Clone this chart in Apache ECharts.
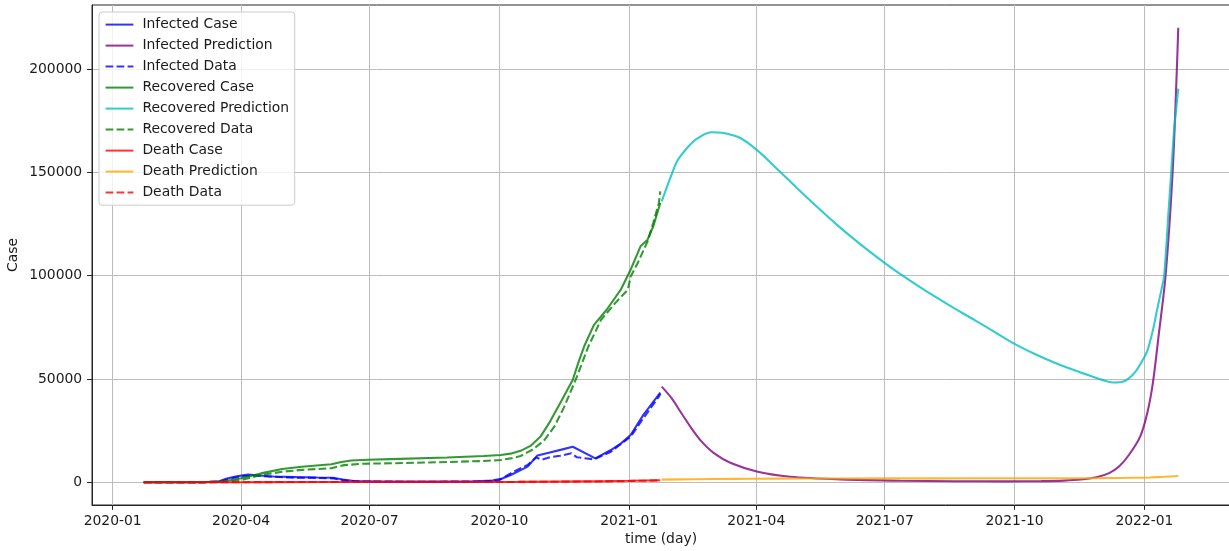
<!DOCTYPE html>
<html>
<head>
<meta charset="utf-8">
<title>Case</title>
<script src="https://cdn.jsdelivr.net/npm/echarts@6/dist/echarts.min.js"></script>
<style>
  html, body { margin: 0; padding: 0; background: #ffffff; }
  #chart { width: 1229px; height: 551px; }
</style>
</head>
<body>
<div id="chart"></div>
<script>
// ---- tick labels ----
const xTickLabels = ['2020-01', '2020-04', '2020-07', '2020-10', '2021-01', '2021-04', '2021-07', '2021-10', '2022-01'];
const yTickValues = [0, 50000, 100000, 150000, 200000];

// ---- series: [date, cases] ----
const infectedCase = [
  ['2020-01-23', 0], ['2020-02-15', 20], ['2020-03-05', 50], ['2020-03-16', 400],
  ['2020-03-22', 1800], ['2020-03-29', 2900], ['2020-04-06', 3700], ['2020-04-14', 3300],
  ['2020-04-24', 2800], ['2020-05-10', 2500], ['2020-05-25', 2300], ['2020-06-05', 2200],
  ['2020-06-12', 1300], ['2020-06-20', 600], ['2020-07-10', 300], ['2020-08-15', 300],
  ['2020-09-10', 400], ['2020-09-26', 800], ['2020-10-03', 1800], ['2020-10-09', 3500],
  ['2020-10-15', 5500], ['2020-10-21', 7600], ['2020-10-28', 13000], ['2020-11-05', 14300],
  ['2020-11-14', 15800], ['2020-11-22', 17200], ['2020-12-08', 11600], ['2020-12-19', 15600],
  ['2020-12-26', 18700], ['2021-01-02', 22900], ['2021-01-11', 32600], ['2021-01-23', 43400]
];
const infectedPrediction = [
  ['2021-01-24', 46300], ['2021-01-31', 40700], ['2021-02-07', 33400], ['2021-02-14', 26200],
  ['2021-02-21', 19900], ['2021-03-02', 14100], ['2021-03-14', 9300], ['2021-04-02', 5100],
  ['2021-04-25', 2700], ['2021-05-31', 1400], ['2021-07-12', 750], ['2021-08-20', 500],
  ['2021-09-25', 450], ['2021-10-20', 550], ['2021-11-05', 800], ['2021-11-17', 1300],
  ['2021-11-28', 2400], ['2021-12-07', 4400], ['2021-12-14', 7600], ['2021-12-21', 13200],
  ['2021-12-29', 22100], ['2022-01-03', 33400], ['2022-01-07', 48000], ['2022-01-11', 70500],
  ['2022-01-16', 100000], ['2022-01-21', 150000], ['2022-01-24', 200000], ['2022-01-25', 220000]
];
const infectedData = [
  ['2020-01-23', 0], ['2020-03-05', 40], ['2020-03-18', 500], ['2020-03-25', 1900],
  ['2020-04-02', 2900], ['2020-04-09', 3300], ['2020-04-20', 2800], ['2020-05-05', 2300],
  ['2020-05-25', 2100], ['2020-06-05', 1900], ['2020-06-14', 800], ['2020-06-25', 400],
  ['2020-08-01', 250], ['2020-09-20', 350], ['2020-10-01', 1000], ['2020-10-11', 5100],
  ['2020-10-21', 8400], ['2020-10-27', 12000], ['2020-10-31', 10900], ['2020-11-06', 12100],
  ['2020-11-13', 12800], ['2020-11-21', 14000], ['2020-11-25', 12100], ['2020-12-07', 11100],
  ['2020-12-19', 14800], ['2021-01-02', 22100], ['2021-01-11', 31000], ['2021-01-22', 41500],
  ['2021-01-23', 42800]
];
const recoveredCase = [
  ['2020-01-23', 0], ['2020-03-01', 30], ['2020-03-18', 300], ['2020-04-01', 1900],
  ['2020-04-15', 4300], ['2020-04-30', 6400], ['2020-05-14', 7500], ['2020-06-04', 8700],
  ['2020-06-11', 9800], ['2020-06-18', 10500], ['2020-06-30', 10900], ['2020-07-16', 11200],
  ['2020-08-25', 12000], ['2020-09-20', 12700], ['2020-10-02', 13200], ['2020-10-10', 14000],
  ['2020-10-16', 15200], ['2020-10-23', 17600], ['2020-10-30', 22000], ['2020-11-06', 29500],
  ['2020-11-14', 39500], ['2020-11-22', 49600], ['2020-11-26', 58000], ['2020-11-30', 65700],
  ['2020-12-07', 76200], ['2020-12-16', 83500], ['2020-12-26', 93200], ['2021-01-02', 102900],
  ['2021-01-09', 114200], ['2021-01-14', 117400], ['2021-01-18', 123800], ['2021-01-23', 135200]
];
const recoveredPrediction = [
  ['2021-01-24', 136000], ['2021-01-31', 148900], ['2021-02-04', 155500], ['2021-02-11', 161800],
  ['2021-02-18', 166300], ['2021-02-28', 169400], ['2021-03-09', 169000], ['2021-03-21', 166500],
  ['2021-04-02', 160500], ['2021-04-16', 151500], ['2021-04-30', 142300], ['2021-05-14', 133300],
  ['2021-05-28', 124700], ['2021-06-11', 116700], ['2021-06-25', 109200], ['2021-07-09', 102200],
  ['2021-07-23', 95800], ['2021-08-06', 89700], ['2021-08-20', 83900], ['2021-09-03', 78400],
  ['2021-09-17', 72700], ['2021-10-01', 67000], ['2021-10-15', 62200], ['2021-10-29', 58000],
  ['2021-11-12', 54300], ['2021-11-26', 51000], ['2021-12-10', 48300], ['2021-12-16', 48500],
  ['2021-12-21', 50300], ['2021-12-26', 53800], ['2021-12-30', 58200], ['2022-01-03', 63500],
  ['2022-01-07', 73500], ['2022-01-10', 83500], ['2022-01-13', 93000], ['2022-01-15', 100000],
  ['2022-01-18', 130000], ['2022-01-20', 150000], ['2022-01-22', 170000], ['2022-01-25', 190500]
];
const recoveredData = [
  ['2020-01-23', 0], ['2020-03-05', 20], ['2020-03-21', 200], ['2020-04-01', 1100],
  ['2020-04-15', 3500], ['2020-04-30', 5100], ['2020-05-14', 6000], ['2020-06-04', 6800],
  ['2020-06-13', 8300], ['2020-06-27', 9000], ['2020-07-16', 9200], ['2020-08-25', 9800],
  ['2020-09-20', 10300], ['2020-10-02', 10800], ['2020-10-10', 11700], ['2020-10-16', 12700],
  ['2020-10-25', 16000], ['2020-11-02', 20500], ['2020-11-09', 27000], ['2020-11-16', 36600],
  ['2020-11-25', 51200], ['2020-12-03', 65700], ['2020-12-12', 78600], ['2020-12-22', 86700],
  ['2020-12-31', 93200], ['2021-01-02', 99600], ['2021-01-07', 106100], ['2021-01-14', 116600],
  ['2021-01-18', 125500], ['2021-01-22', 135200], ['2021-01-23', 140800]
];
const deathCase = [
  ['2020-01-23', 0], ['2020-03-15', 5], ['2020-04-01', 50], ['2020-04-20', 90],
  ['2020-06-01', 120], ['2020-09-01', 140], ['2020-10-15', 200], ['2020-11-15', 350],
  ['2020-12-15', 550], ['2021-01-01', 700], ['2021-01-23', 1000]
];
const deathPrediction = [
  ['2021-01-24', 1300], ['2021-02-15', 1500], ['2021-03-15', 1650], ['2021-04-15', 1750],
  ['2021-06-01', 1850], ['2021-08-01', 1900], ['2021-10-01', 1950], ['2021-12-01', 2000],
  ['2021-12-25', 2150], ['2022-01-05', 2350], ['2022-01-15', 2650], ['2022-01-25', 3050]
];
const deathData = [
  ['2020-01-23', 0], ['2020-03-17', 2], ['2020-04-01', 40], ['2020-04-15', 75],
  ['2020-05-01', 100], ['2020-06-01', 115], ['2020-07-01', 120], ['2020-09-01', 128],
  ['2020-10-01', 136], ['2020-10-15', 180], ['2020-11-01', 250], ['2020-11-15', 300],
  ['2020-12-01', 370], ['2020-12-15', 450], ['2021-01-01', 600], ['2021-01-15', 800],
  ['2021-01-23', 950]
];

// ---- styling ----
const FONT = 'DejaVu Sans';
const FS = 13.9;
const LW = 2.08;
const DASH = [7.7, 3.3];
const INK = '#1a1a1a';

// dates are placed on a numeric axis in whole days (UTC)
function toTime(s) {
  const p = s.split('-').map(Number);
  return Date.UTC(p[0], p[1] - 1, p.length > 2 ? p[2] : 1);
}
const xTickValues = xTickLabels.map(toTime);
const asPoints = rows => rows.map(r => [toTime(r[0]), r[1]]);

// axis limits: data range padded by 5% on each side
const allRows = [infectedCase, infectedPrediction, infectedData, recoveredCase, recoveredPrediction,
                 recoveredData, deathCase, deathPrediction, deathData].flat();
const tMin = Math.min(...allRows.map(r => toTime(r[0])));
const tMax = Math.max(...allRows.map(r => toTime(r[0])));
const vMin = Math.min(...allRows.map(r => r[1]));
const vMax = Math.max(...allRows.map(r => r[1]));
const xMin = tMin - (tMax - tMin) * 0.05;
const xMax = tMax + (tMax - tMin) * 0.05;
const yMin = vMin - (vMax - vMin) * 0.05;
const yMax = vMax + (vMax - vMin) * 0.05;

function pad2(n) { return String(n).padStart(2, '0'); }

function lineSeries(name, rows, color, dashed, smooth) {
  return {
    name: name,
    type: 'line',
    data: asPoints(rows),
    symbol: 'none',
    showSymbol: false,
    smooth: smooth ? 0.3 : false,
    lineStyle: { color: color, width: LW, type: dashed ? DASH : 'solid', cap: 'butt' },
    itemStyle: { color: color },
    emphasis: { disabled: true },
    silent: true
  };
}

const chart = echarts.init(document.getElementById('chart'), null, { renderer: 'canvas' });

chart.setOption({
  animation: false,
  backgroundColor: '#ffffff',
  textStyle: { fontFamily: FONT },
  grid: {
    left: 92, top: 5, width: 1138, height: 500,
    outerBoundsMode: 'none',
    containLabel: false,
    show: true, borderColor: '#262626', borderWidth: 1, backgroundColor: 'transparent'
  },
  legend: {
    left: 99, top: 12,
    orient: 'vertical',
    itemWidth: 27.8, itemHeight: 14, itemGap: 7,
    padding: [5.6, 5.6, 5.6, 5.6],
    backgroundColor: 'rgba(255,255,255,0.8)',
    borderColor: '#cccccc', borderWidth: 1, borderRadius: 3,
    itemStyle: { opacity: 0, borderWidth: 0 },
    textStyle: { fontFamily: FONT, fontSize: FS, color: INK, padding: [0, 0, 0, 4], lineHeight: 14 },
    selectedMode: false
  },
  xAxis: {
    type: 'value',
    min: xMin,
    max: xMax,
    name: 'time (day)',
    nameLocation: 'middle',
    nameGap: 27,
    nameMoveOverlap: false,
    nameTextStyle: { fontFamily: FONT, fontSize: FS, color: INK },
    axisLine: { show: true, onZero: false, lineStyle: { color: '#262626', width: 1 } },
    axisTick: { show: true, length: 4.9, inside: false, customValues: xTickValues, lineStyle: { color: '#262626', width: 1 } },
    axisLabel: {
      customValues: xTickValues,
      margin: 9.8,
      fontFamily: FONT, fontSize: FS, color: INK,
      formatter: v => { const d = new Date(v); return d.getUTCFullYear() + '-' + pad2(d.getUTCMonth() + 1); }
    },
    splitLine: { show: true, lineStyle: { color: '#bdbdbd', width: 1 } }
  },
  yAxis: {
    type: 'value',
    min: yMin,
    max: yMax,
    name: 'Case',
    nameLocation: 'middle',
    nameGap: 72,
    nameMoveOverlap: false,
    nameRotate: 90,
    nameTextStyle: { fontFamily: FONT, fontSize: FS, color: INK },
    axisLine: { show: true, onZero: false, lineStyle: { color: '#262626', width: 1 } },
    axisTick: { show: true, length: 4.9, inside: false, customValues: yTickValues, lineStyle: { color: '#262626', width: 1 } },
    axisLabel: {
      customValues: yTickValues,
      margin: 9.8,
      fontFamily: FONT, fontSize: FS, color: INK,
      formatter: v => String(Math.round(v))
    },
    splitLine: { show: true, lineStyle: { color: '#bdbdbd', width: 1 } }
  },
  series: [
    lineSeries('Infected Case', infectedCase, 'rgba(0,0,255,0.8)', false, false),
    lineSeries('Infected Prediction', infectedPrediction, 'rgba(128,0,128,0.8)', false, true),
    lineSeries('Infected Data', infectedData, 'rgba(0,0,255,0.8)', true, false),
    lineSeries('Recovered Case', recoveredCase, 'rgba(0,128,0,0.8)', false, false),
    lineSeries('Recovered Prediction', recoveredPrediction, 'rgba(0,191,191,0.8)', false, true),
    lineSeries('Recovered Data', recoveredData, 'rgba(0,128,0,0.8)', true, false),
    lineSeries('Death Case', deathCase, 'rgba(255,0,0,0.8)', false, false),
    lineSeries('Death Prediction', deathPrediction, 'rgba(255,165,0,0.8)', false, true),
    lineSeries('Death Data', deathData, 'rgba(255,0,0,0.8)', true, false)
  ]
});
</script>
</body>
</html>
